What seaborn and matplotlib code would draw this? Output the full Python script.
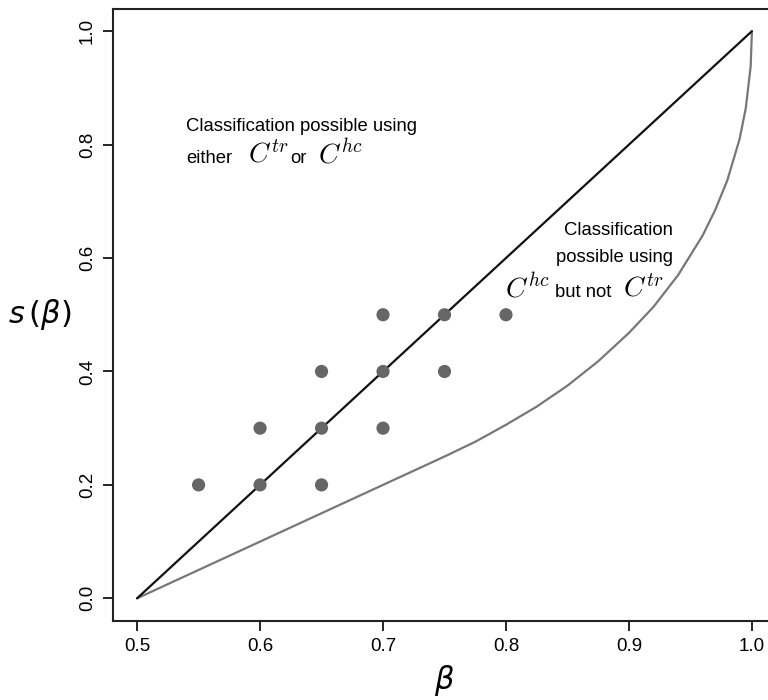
import numpy as np
import pandas as pd
import seaborn as sns
import matplotlib.pyplot as plt

# Pontos observados (beta, s)
beta_pts = [0.55, 0.60, 0.60, 0.65, 0.65, 0.65, 0.70, 0.70, 0.70, 0.75, 0.75, 0.80]
s_pts = [0.20, 0.20, 0.30, 0.20, 0.30, 0.40, 0.30, 0.40, 0.50, 0.40, 0.50, 0.50]

# Diagonal preta
beta_diag = [0.5, 1.0]
s_diag = [0.0, 1.0]

# Fronteira cinza
beta_curva = [0.50, 0.55, 0.60, 0.65, 0.70, 0.75, 0.775, 0.80, 0.825, 0.85, 0.875,
              0.90, 0.92, 0.94, 0.96, 0.97, 0.98, 0.99, 0.995, 0.999, 1.0]
s_curva = [0.00, 0.05, 0.10, 0.15, 0.20, 0.25, 0.276, 0.306, 0.338, 0.375, 0.418,
           0.468, 0.514, 0.570, 0.640, 0.684, 0.737, 0.810, 0.864, 0.938, 1.0]

x_ticks = [0.5, 0.6, 0.7, 0.8, 0.9, 1.0]
y_ticks = [0.0, 0.2, 0.4, 0.6, 0.8, 1.0]

sns.set_style("ticks")
plt.rcParams['font.family'] = ['Liberation Sans', 'DejaVu Sans']
plt.rcParams['text.color'] = 'black'
plt.rcParams['axes.labelcolor'] = 'black'
plt.rcParams['xtick.color'] = 'black'
plt.rcParams['ytick.color'] = 'black'

fig = plt.figure(figsize=(7.68, 7.0), dpi=100)
ax = fig.add_axes([112.5 / 768, 79 / 700, 664 / 768, 612.5 / 700])

df_curva = pd.DataFrame({'beta': beta_curva, 's': s_curva})
df_diag = pd.DataFrame({'beta': beta_diag, 's': s_diag})
df_pts = pd.DataFrame({'beta': beta_pts, 's': s_pts})

sns.lineplot(data=df_curva, x='beta', y='s', ax=ax, color='#777777', lw=1.6,
             sort=False, estimator=None)
sns.lineplot(data=df_diag, x='beta', y='s', ax=ax, color='#111111', lw=1.6,
             sort=False, estimator=None)
sns.scatterplot(data=df_pts, x='beta', y='s', ax=ax, color='#666666', s=90,
                edgecolor='none', zorder=3)

ax.set_xlim(0.48, 1.02)
ax.set_ylim(-0.04, 1.04)
ax.set_xticks(x_ticks)
ax.set_yticks(y_ticks)
ax.set_xticklabels([f'{v:.1f}' for v in x_ticks], fontsize=13.5)
ax.set_yticklabels([f'{v:.1f}' for v in y_ticks], fontsize=13.5, rotation=90, va='center')
ax.tick_params(direction='out', length=7, width=1.2, pad=5)
for sp in ax.spines.values():
    sp.set_linewidth(1.5)
    sp.set_color('#222222')

ax.set_xlabel(r'$\beta$', fontsize=22, labelpad=6, math_fontfamily='dejavusans')
ax.set_ylabel(r'$s\,(\beta)$', fontsize=22, rotation=0, va='center', ha='center',
              math_fontfamily='dejavusans')
ax.yaxis.set_label_coords(-0.109, 0.5)

fs = 13.3
fm = 20
# Texto superior esquerdo
ax.text(0.54, 0.824, 'Classification possible using', fontsize=fs, ha='left', va='baseline')
ax.text(0.54, 0.767, 'either', fontsize=fs, ha='left', va='baseline')
ax.text(0.590, 0.767, r'$C^{tr}$', fontsize=fm, ha='left', va='baseline', math_fontfamily='cm')
ax.text(0.6244, 0.767, 'or', fontsize=fs, ha='left', va='baseline')
ax.text(0.647, 0.767, r'$C^{hc}$', fontsize=fm, ha='left', va='baseline', math_fontfamily='cm')

# Texto à direita
ax.text(0.936, 0.640, 'Classification', fontsize=fs, ha='right', va='baseline')
ax.text(0.936, 0.593, 'possible using', fontsize=fs, ha='right', va='baseline')
ax.text(0.799, 0.531, r'$C^{hc}$', fontsize=fm, ha='left', va='baseline', math_fontfamily='cm')
ax.text(0.8398, 0.531, 'but not', fontsize=fs, ha='left', va='baseline')
ax.text(0.895, 0.531, r'$C^{tr}$', fontsize=fm, ha='left', va='baseline', math_fontfamily='cm')

fig.savefig('out.png', dpi=100)
